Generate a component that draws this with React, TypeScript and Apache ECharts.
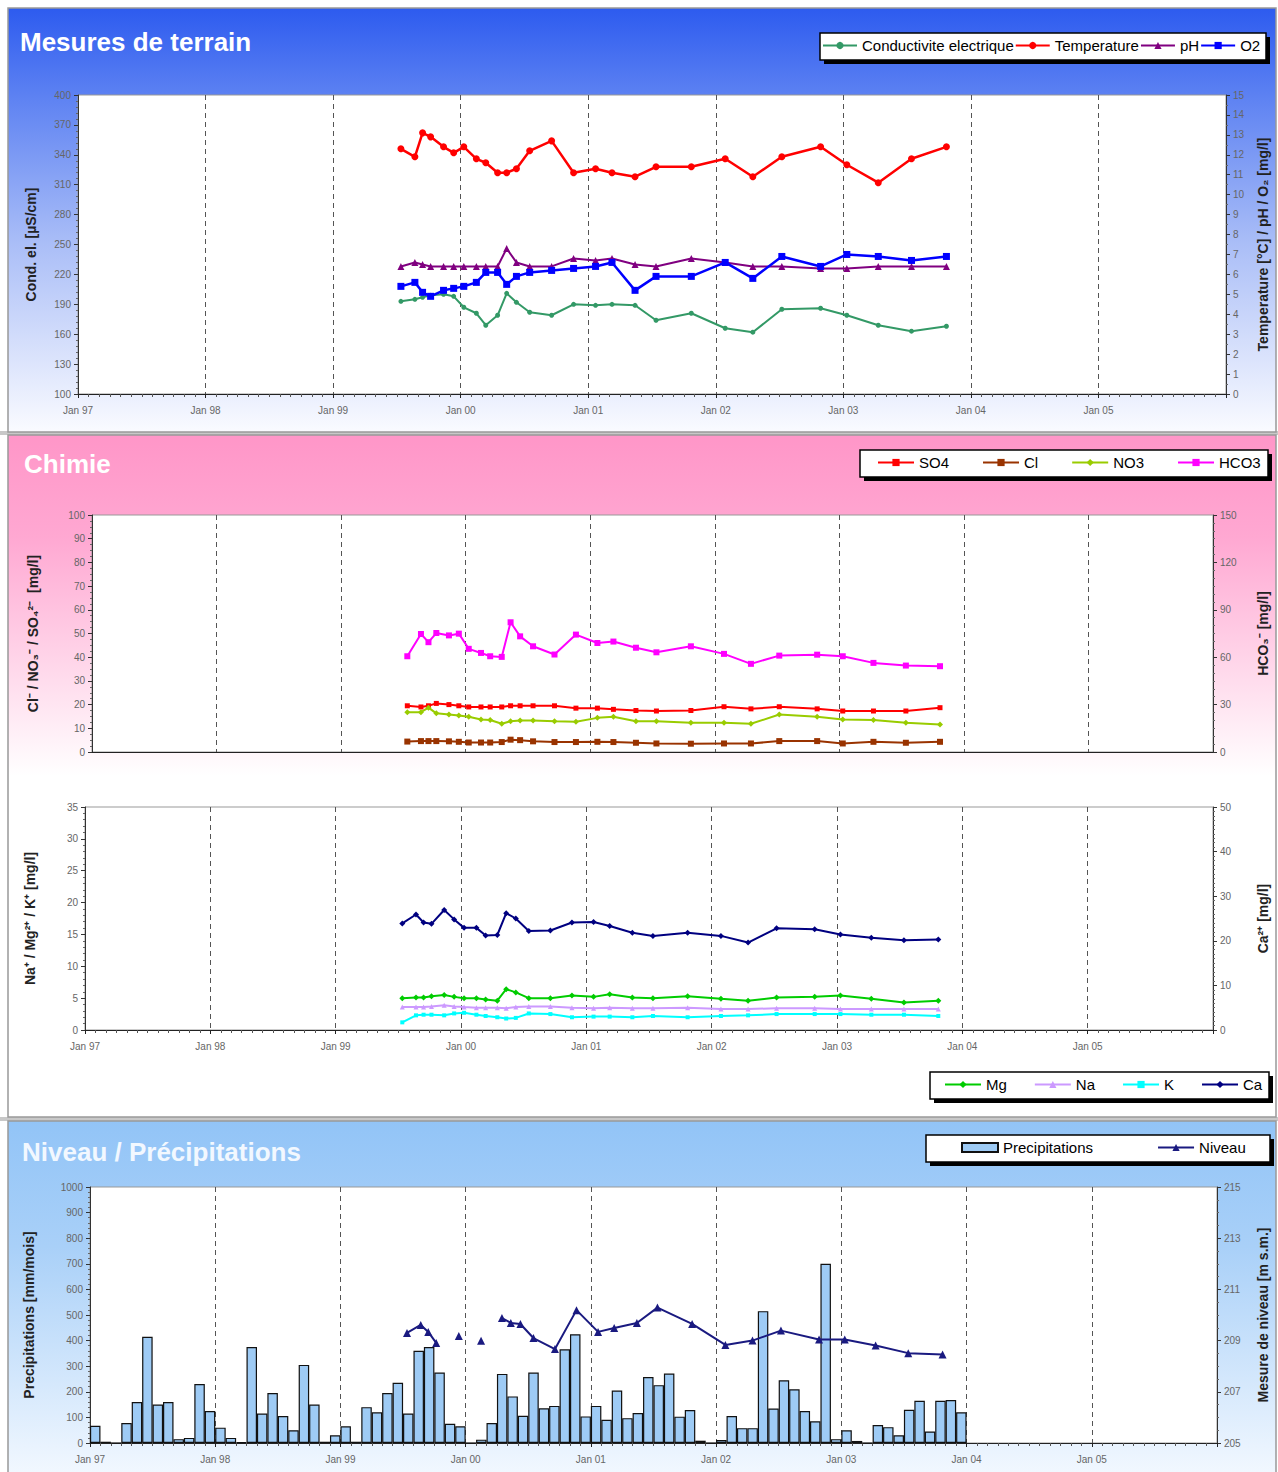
import React, { useEffect, useRef } from 'react';
import * as echarts from 'echarts';

// ---------- DATA ----------
const sampleDates = [
  '1999-07-14', '1999-08-23', '1999-09-14', '1999-10-07', '1999-11-13', '1999-12-12',
  '2000-01-10', '2000-02-15', '2000-03-13', '2000-04-16', '2000-05-12', '2000-06-09',
  '2000-07-17', '2000-09-18', '2000-11-20', '2001-01-22', '2001-03-10', '2001-05-15',
  '2001-07-14', '2001-10-23', '2002-01-28', '2002-04-17', '2002-07-09', '2002-10-28',
  '2003-01-11', '2003-04-11', '2003-07-15', '2003-10-23',
];

// Mesures de terrain
const conductivity = [193, 195, 197, 199, 200, 198, 187, 181, 169, 179, 201, 192, 182, 179, 190, 189, 190, 189, 174, 181, 166, 162, 185, 186, 179, 169, 163, 168];
const temperature = [12.3, 11.9, 13.1, 12.9, 12.4, 12.1, 12.4, 11.8, 11.6, 11.1, 11.1, 11.3, 12.2, 12.7, 11.1, 11.3, 11.1, 10.9, 11.4, 11.4, 11.8, 10.9, 11.9, 12.4, 11.5, 10.6, 11.8, 12.4];
const pH = [6.4, 6.6, 6.5, 6.4, 6.4, 6.4, 6.4, 6.4, 6.4, 6.4, 7.3, 6.6, 6.4, 6.4, 6.8, 6.7, 6.8, 6.5, 6.4, 6.8, 6.6, 6.4, 6.4, 6.3, 6.3, 6.4, 6.4, 6.4];
const oxygen = [5.4, 5.6, 5.1, 4.9, 5.2, 5.3, 5.4, 5.6, 6.1, 6.1, 5.5, 5.9, 6.1, 6.2, 6.3, 6.4, 6.6, 5.2, 5.9, 5.9, 6.6, 5.8, 6.9, 6.4, 7.0, 6.9, 6.7, 6.9];

// Chimie (anions)
const so4 = [19.5, 19, 19.5, 20.5, 20, 19.5, 19, 19, 19, 19, 19.5, 19.5, 19.5, 19.5, 18.5, 18.5, 18, 17.5, 17.3, 17.5, 19.1, 18.2, 19.1, 18.2, 17.3, 17.3, 17.3, 18.7];
const cl = [4.4, 4.6, 4.6, 4.6, 4.5, 4.3, 4.0, 4.0, 4.0, 4.2, 5.2, 5.0, 4.5, 4.2, 4.2, 4.3, 4.2, 3.9, 3.6, 3.5, 3.6, 3.6, 4.6, 4.6, 3.6, 4.3, 3.9, 4.3];
const no3 = [16.8, 16.8, 18.7, 16.3, 15.8, 15.4, 14.9, 13.7, 13.5, 11.9, 13.0, 13.3, 13.3, 13.0, 12.8, 14.4, 14.9, 13.0, 13.0, 12.3, 12.3, 11.9, 15.8, 14.9, 13.7, 13.5, 12.3, 11.6];
const hco3 = [60.6, 74.7, 69.5, 75.3, 73.8, 74.9, 65.3, 62.7, 60.6, 60.2, 82.1, 73.2, 66.9, 61.7, 74.3, 69.0, 69.9, 66.0, 63.1, 66.9, 62.1, 55.8, 61.0, 61.6, 60.6, 56.4, 54.7, 54.3];

// Chimie (cations)
const mg = [5.0, 5.1, 5.1, 5.3, 5.5, 5.2, 5.0, 5.0, 4.8, 4.6, 6.4, 5.9, 5.0, 5.0, 5.4, 5.2, 5.6, 5.1, 5.0, 5.3, 4.9, 4.6, 5.1, 5.2, 5.4, 4.9, 4.3, 4.6];
const na = [3.6, 3.6, 3.6, 3.7, 3.9, 3.7, 3.6, 3.5, 3.5, 3.5, 3.4, 3.6, 3.7, 3.7, 3.5, 3.4, 3.5, 3.4, 3.4, 3.5, 3.3, 3.3, 3.4, 3.4, 3.3, 3.3, 3.3, 3.3];
const k = [1.2, 2.3, 2.4, 2.4, 2.3, 2.6, 2.7, 2.4, 2.2, 2.0, 1.8, 1.9, 2.6, 2.5, 2.0, 2.1, 2.1, 2.0, 2.2, 2.0, 2.2, 2.3, 2.5, 2.5, 2.5, 2.4, 2.4, 2.2];
const ca = [23.9, 25.9, 24.1, 23.8, 26.9, 24.8, 22.9, 22.9, 21.2, 21.3, 26.2, 25.0, 22.2, 22.3, 24.1, 24.2, 23.3, 21.8, 21.1, 21.8, 21.1, 19.6, 22.8, 22.6, 21.4, 20.7, 20.1, 20.3];

// Niveau (m s.m.), null = no measurement
const niveau = [209.30, 209.61, 209.34, 208.91, null, 209.18, null, 208.99, null, 209.88, 209.69, 209.65, 209.10, 208.67, 210.19, 209.34, 209.49, 209.69, 210.29, 209.65, 208.83, 209.0, 209.39, 209.04, 209.04, 208.81, 208.51, 208.46];

// Precipitations, mm/month, Jan..Dec
const precipYears = [1997, 1998, 1999, 2000, 2001, 2002, 2003];
const precip1997 = [67, 5, 0, 78, 160, 415, 150, 160, 15, 20, 230, 125];
const precip1998 = [60, 20, 3, 375, 115, 195, 105, 50, 305, 150, 5, 30];
const precip1999 = [65, 5, 140, 120, 195, 235, 115, 360, 375, 275, 75, 65];
const precip2000 = [0, 13, 78, 270, 182, 106, 275, 136, 145, 366, 425, 104];
const precip2001 = [145, 91, 205, 97, 117, 258, 226, 271, 103, 129, 9, 0];
const precip2002 = [12, 105, 58, 58, 515, 135, 245, 210, 125, 85, 700, 15];
const precip2003 = [50, 8, 0, 70, 62, 30, 130, 165, 45, 165, 168, 120];
const precipByYear = [precip1997, precip1998, precip1999, precip2000, precip2001, precip2002, precip2003];

// ---------- HELPERS ----------
const FONT = '"Liberation Sans", Arial, sans-serif';

const toYear = (s: string) => {
  const [y, m, d] = s.split('-').map(Number);
  const t = Date.UTC(y, m - 1, d);
  const a = Date.UTC(y, 0, 1);
  const b = Date.UTC(y + 1, 0, 1);
  return y + (t - a) / (b - a);
};

const pts = (vals: (number | null)[]) =>
  sampleDates.map((d, i) => [toYear(d), vals[i] == null ? '-' : vals[i]]);

const precipData: number[][] = [];
precipYears.forEach((y, yi) => {
  precipByYear[yi].forEach((v, m) => precipData.push([y + (m + 0.5) / 12, v]));
});

const xAxisCfg = (gridIndex: number, labels: boolean, ticks: boolean) => ({
  type: 'value',
  gridIndex,
  min: 1997,
  max: 2006,
  interval: 1,
  axisLine: { show: true, onZero: false, lineStyle: { color: '#222', width: 1 } },
  axisTick: { show: ticks, length: 4, lineStyle: { color: '#222' } },
  minorTick: { show: ticks, splitNumber: 12, length: 3, lineStyle: { color: '#555' } },
  splitLine: { show: true, lineStyle: { color: '#555', type: [5, 4], width: 1 } },
  axisLabel: {
    show: labels,
    color: '#666',
    fontSize: 10,
    fontFamily: FONT,
    margin: 11,
    showMaxLabel: false,
    formatter: (v: number) => (v >= 2006 ? '' : 'Jan ' + String(Math.round(v) % 100).padStart(2, '0')),
  },
});

const yAxisCfg = (
  gridIndex: number,
  position: string,
  min: number,
  max: number,
  interval: number,
  name: string,
  nameGap: number,
  minorSplit: number,
) => ({
  type: 'value',
  gridIndex,
  position,
  min,
  max,
  interval,
  name,
  nameLocation: 'middle',
  nameGap,
  nameRotate: 90,
  nameTextStyle: { fontFamily: FONT, fontWeight: 'bold', fontSize: 14, color: '#222' },
  axisLine: { show: true, lineStyle: { color: '#333' } },
  axisTick: { show: true, length: 4, lineStyle: { color: '#333' } },
  minorTick: { show: true, splitNumber: minorSplit, length: 2, lineStyle: { color: '#666' } },
  splitLine: { show: false },
  axisLabel: { color: '#666', fontSize: 10, fontFamily: FONT, margin: 7, formatter: (v: number) => String(v) },
});

const lineSeries = (
  name: string,
  vals: (number | null)[],
  xAxisIndex: number,
  yAxisIndex: number,
  color: string,
  symbol: string,
  symbolSize: number,
  width = 2,
) => ({
  type: 'line',
  name,
  xAxisIndex,
  yAxisIndex,
  data: pts(vals),
  symbol,
  symbolSize,
  showSymbol: true,
  connectNulls: false,
  lineStyle: { color, width },
  itemStyle: { color },
  emphasis: { disabled: true },
  z: 3,
});

const legendCommon = {
  orient: 'horizontal',
  padding: 0,
  itemWidth: 36,
  itemHeight: 9,
  selectedMode: false,
  textStyle: { fontSize: 15, fontFamily: FONT, color: '#000' },
  z: 10,
};

const legendBox = (x: number, y: number, w: number, h: number) => [
  { type: 'rect', z: 6, shape: { x: x + 4, y: y + 4, width: w, height: h }, style: { fill: '#000' } },
  { type: 'rect', z: 7, shape: { x, y, width: w, height: h }, style: { fill: '#fff', stroke: '#000', lineWidth: 1.5 } },
];

const vGrad = (stops: [number, string][]) =>
  new echarts.graphic.LinearGradient(0, 0, 0, 1, stops.map(([offset, color]) => ({ offset, color })));

const titleText = (x: number, y: number, text: string, fill: string) => ({
  type: 'text',
  z: 10,
  x,
  y,
  style: {
    text,
    fill,
    font: 'bold 26px "Liberation Sans", Arial, sans-serif',
    textVerticalAlign: 'middle',
    verticalAlign: 'middle',
  },
});

export default function App() {
  const ref = useRef<HTMLDivElement>(null);

  useEffect(() => {
    document.body.style.margin = '0';
    if (!ref.current) return;
    const chart = echarts.init(ref.current, undefined, { renderer: 'svg' });

    const option: any = {
      animation: false,
      backgroundColor: '#fff',
      grid: [
        { left: 78, top: 95, width: 1150, height: 299, show: true, backgroundColor: '#fff', borderColor: '#999', borderWidth: 1 },
        { left: 92, top: 515, width: 1127, height: 237, show: true, backgroundColor: '#fff', borderColor: '#999', borderWidth: 1 },
        { left: 85, top: 807, width: 1134, height: 223, show: true, backgroundColor: '#fff', borderColor: '#999', borderWidth: 1 },
        { left: 90, top: 1187, width: 1133, height: 256, show: true, backgroundColor: '#fff', borderColor: '#999', borderWidth: 1 },
      ],
      xAxis: [
        xAxisCfg(0, true, true),
        xAxisCfg(1, false, false),
        xAxisCfg(2, true, true),
        xAxisCfg(3, true, true),
      ],
      yAxis: [
        yAxisCfg(0, 'left', 100, 400, 30, 'Cond. el. [µS/cm]', 40, 5),
        yAxisCfg(0, 'right', 0, 15, 1, 'Temperature [°C] / pH / O₂ [mg/l]', 30, 2),
        yAxisCfg(1, 'left', 0, 100, 10, 'Cl⁻ / NO₃⁻ / SO₄²⁻  [mg/l]', 52, 4),
        yAxisCfg(1, 'right', 0, 150, 30, 'HCO₃⁻ [mg/l]', 43, 6),
        yAxisCfg(2, 'left', 0, 35, 5, 'Na⁺ / Mg²⁺ / K⁺ [mg/l]', 48, 5),
        yAxisCfg(2, 'right', 0, 50, 10, 'Ca²⁺ [mg/l]', 43, 10),
        yAxisCfg(3, 'left', 0, 1000, 100, 'Precipitations [mm/mois]', 54, 5),
        yAxisCfg(3, 'right', 205, 215, 2, 'Mesure de niveau [m s.m.]', 39, 4),
      ],
      legend: [
        { ...legendCommon, data: ['Conductivite electrique', 'Temperature', 'pH', 'O2'], left: 822, top: 38, itemGap: 1, itemWidth: 34 },
        { ...legendCommon, data: ['SO4', 'Cl', 'NO3', 'HCO3'], left: 877, top: 455, itemGap: 33 },
        { ...legendCommon, data: ['Mg', 'Na', 'K', 'Ca'], left: 944, top: 1077, itemGap: 27 },
        {
          ...legendCommon,
          data: [{ name: 'Precipitations', icon: 'rect' }, 'Niveau'],
          left: 961,
          top: 1140,
          itemGap: 64,
        },
      ],
      graphic: [
        // panel backgrounds
        { type: 'rect', z: -10, shape: { x: 8, y: 8, width: 1268, height: 424 }, style: { fill: vGrad([[0, '#2d5bef'], [0.2, '#5b80f2'], [0.55, '#a9bdf7'], [1, '#fafbff']]), stroke: '#999', lineWidth: 1.5 } },
        { type: 'rect', z: -11, shape: { x: 0, y: 431, width: 1278, height: 4 }, style: { fill: '#c8c8c8' } },
        { type: 'rect', z: -10, shape: { x: 8, y: 435, width: 1268, height: 682 }, style: { fill: vGrad([[0, '#ff96c8'], [0.15, '#ffa8d2'], [0.5, '#ffffff'], [1, '#ffffff']]), stroke: '#999', lineWidth: 1.5 } },
        { type: 'rect', z: -11, shape: { x: 0, y: 1117, width: 1278, height: 4 }, style: { fill: '#c8c8c8' } },
        { type: 'rect', z: -10, shape: { x: 8, y: 1121, width: 1268, height: 360 }, style: { fill: vGrad([[0, '#92c4f7'], [0.35, '#a9d0f8'], [1, '#f4f9ff']]), stroke: '#999', lineWidth: 1.5 } },
        // titles
        titleText(20, 42, 'Mesures de terrain', '#ffffff'),
        titleText(24, 464, 'Chimie', '#ffffff'),
        titleText(22, 1152, 'Niveau / Précipitations', '#f2f8ff'),
        // legend boxes
        ...legendBox(820, 33, 446, 27),
        ...legendBox(860, 450, 408, 27),
        ...legendBox(930, 1072, 339, 27),
        ...legendBox(926, 1135, 344, 27),
      ],
      series: [
        lineSeries('Conductivite electrique', conductivity, 0, 0, '#339966', 'circle', 5),
        lineSeries('Temperature', temperature, 0, 1, '#ff0000', 'circle', 7, 2.5),
        lineSeries('pH', pH, 0, 1, '#800080', 'triangle', 7),
        lineSeries('O2', oxygen, 0, 1, '#0000ff', 'rect', 7, 2.5),

        lineSeries('SO4', so4, 1, 2, '#ff0000', 'rect', 5),
        lineSeries('Cl', cl, 1, 2, '#993300', 'rect', 6),
        lineSeries('NO3', no3, 1, 2, '#99cc00', 'diamond', 6),
        lineSeries('HCO3', hco3, 1, 3, '#ff00ff', 'rect', 6),

        lineSeries('Mg', mg, 2, 4, '#00cc00', 'diamond', 6),
        lineSeries('Na', na, 2, 4, '#cc99ff', 'triangle', 5),
        lineSeries('K', k, 2, 4, '#00ffff', 'rect', 4),
        lineSeries('Ca', ca, 2, 5, '#000080', 'diamond', 6),

        {
          type: 'bar',
          name: 'Precipitations',
          xAxisIndex: 3,
          yAxisIndex: 6,
          data: precipData,
          barWidth: 10.5,
          itemStyle: { color: '#9ecbf5', borderColor: '#111', borderWidth: 1.2 },
          emphasis: { disabled: true },
          z: 2,
        },
        lineSeries('Niveau', niveau, 3, 7, '#1a1a80', 'triangle', 8),
      ],
    };

    chart.setOption(option);
    return () => chart.dispose();
  }, []);

  return <div ref={ref} style={{ width: 1278, height: 1472 }} />;
}
